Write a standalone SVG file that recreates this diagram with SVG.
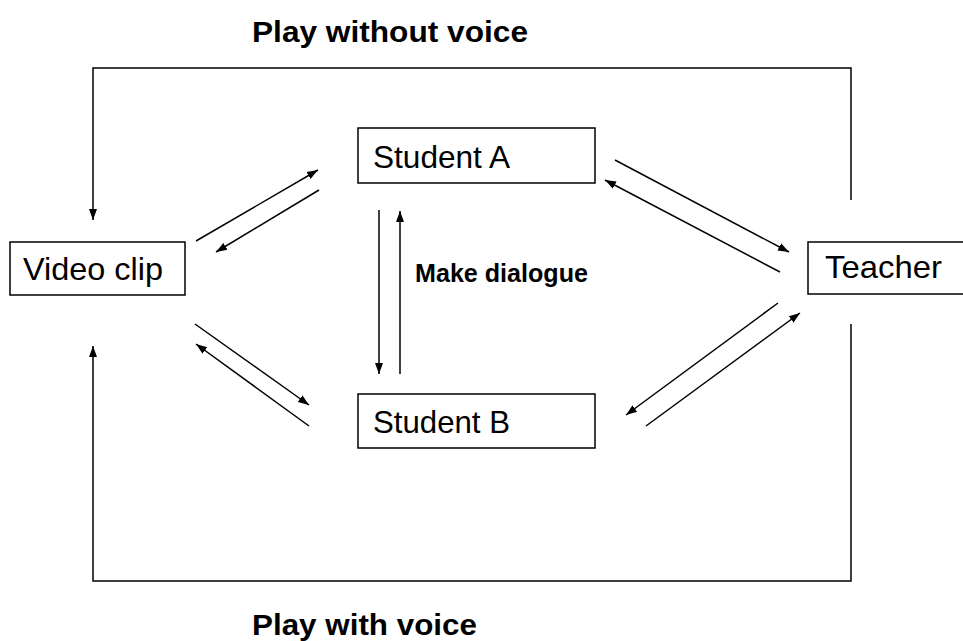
<svg xmlns="http://www.w3.org/2000/svg" width="963" height="641" viewBox="0 0 963 641">
<defs>
<marker id="ah" markerUnits="userSpaceOnUse" markerWidth="12" markerHeight="10" refX="11" refY="5" orient="auto">
<path d="M0,1 L11,5 L0,9 z" fill="#000"/>
</marker>
<style>
.box{fill:#fff;stroke:#000;stroke-width:1.5}
.lbl{font-family:"Liberation Sans",Arial,sans-serif;font-size:32px;fill:#000}
.bold{font-family:"Liberation Sans",Arial,sans-serif;font-weight:bold;fill:#000}
.ar{fill:none;stroke:#000;stroke-width:1.5;marker-end:url(#ah)}
</style>
</defs>
<rect width="963" height="641" fill="#fff"/>
<g id="connectors">
<polyline class="ar" points="851,200 851,68 93,68 93,220"/>
<polyline class="ar" points="851,324 851,581 93,581 93,346"/>
<line class="ar" x1="196" y1="241" x2="318" y2="170"/>
<line class="ar" x1="319" y1="190" x2="216" y2="252"/>
<line class="ar" x1="615" y1="160" x2="789" y2="252"/>
<line class="ar" x1="780" y1="272" x2="605" y2="180"/>
<line class="ar" x1="195" y1="324" x2="309" y2="405"/>
<line class="ar" x1="309" y1="426" x2="196" y2="344"/>
<line class="ar" x1="778" y1="303" x2="626" y2="415"/>
<line class="ar" x1="646" y1="426" x2="800" y2="313"/>
<line class="ar" x1="379" y1="210" x2="379" y2="374"/>
<line class="ar" x1="400" y1="374" x2="400" y2="211"/>
</g>
<g id="video-clip">
<rect class="box" x="10" y="242" width="175" height="53"/>
<text class="lbl" x="23" y="280" textLength="140" lengthAdjust="spacingAndGlyphs">Video clip</text>
</g>
<g id="student-a">
<rect class="box" x="358" y="128" width="237" height="55"/>
<text class="lbl" x="373" y="168" textLength="137" lengthAdjust="spacingAndGlyphs">Student A</text>
</g>
<g id="student-b">
<rect class="box" x="358" y="394" width="237" height="54"/>
<text class="lbl" x="373" y="433" textLength="137" lengthAdjust="spacingAndGlyphs">Student B</text>
</g>
<g id="teacher">
<rect class="box" x="808" y="242" width="160" height="52"/>
<text class="lbl" x="825" y="278" textLength="117" lengthAdjust="spacingAndGlyphs">Teacher</text>
</g>
<g id="labels">
<text class="bold" x="252" y="42" font-size="30" textLength="276" lengthAdjust="spacingAndGlyphs">Play without voice</text>
<text class="bold" x="252" y="635" font-size="29" textLength="225" lengthAdjust="spacingAndGlyphs">Play with voice</text>
<text class="bold" x="415" y="282" font-size="25" textLength="173" lengthAdjust="spacingAndGlyphs">Make dialogue</text>
</g>
</svg>
